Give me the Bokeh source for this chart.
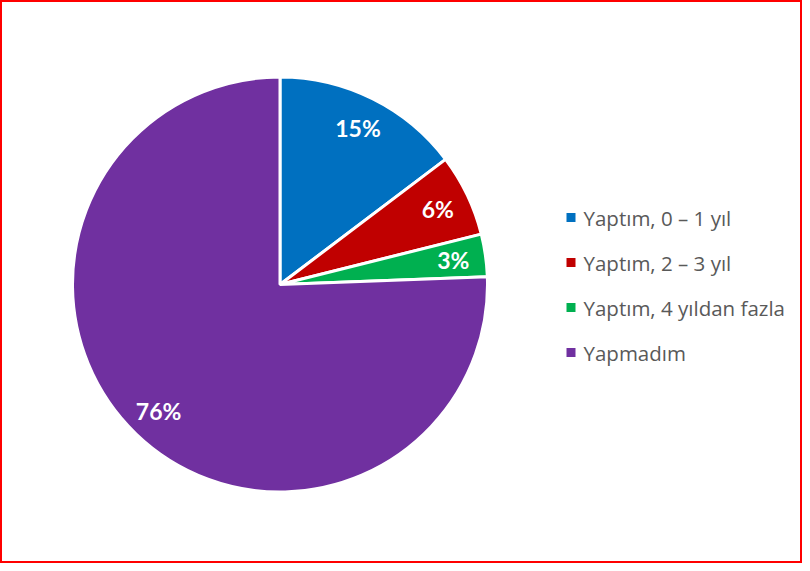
import math
from bokeh.plotting import figure
from bokeh.models import ColumnDataSource, Range1d
from bokeh.core.properties import value
from bokeh.embed import file_html
from bokeh.resources import INLINE

categories = ["Yaptım, 0 – 1 yıl", "Yaptım, 2 – 3 yıl", "Yaptım, 4 yıldan fazla", "Yapmadım"]
shares = [14.7, 6.4, 3.3, 75.6]
labels = ["15%", "6%", "3%", "76%"]
colors = ["#0070C0", "#C00000", "#00B050", "#7030A0"]

W, H = 802, 563
p = figure(width=W, height=H, output_backend="svg", toolbar_location=None,
           x_range=Range1d(0, W), y_range=Range1d(0, H), min_border=0)
p.axis.visible = False
p.grid.visible = False
p.outline_line_color = "#FF0000"
p.outline_line_width = 3
p.background_fill_color = "white"

cx, cy, R = 279.5, 279.0, 207.5
total = sum(shares)
starts, ends, lx, ly = [], [], [], []
cum = 0.0
for s in shares:
    a0 = math.pi / 2 - cum / total * 2 * math.pi
    cum += s
    a1 = math.pi / 2 - cum / total * 2 * math.pi
    starts.append(a0)
    ends.append(a1)
    mid = (a0 + a1) / 2
    lx.append(cx + 175 * math.cos(mid))
    ly.append(cy + 175 * math.sin(mid))

src = ColumnDataSource(dict(start=starts, end=ends, color=colors, lx=lx, ly=ly, label=labels))
p.wedge(x=cx, y=cy, radius=R, start_angle="start", end_angle="end", direction="clock",
        fill_color="color", line_color="white", line_width=3, source=src)
p.text(x="lx", y="ly", text="label", source=src, text_color="white",
       text_font=value("Lato"), text_font_style="bold", text_font_size="23px",
       text_align="center", text_baseline="middle")

leg_y = [346, 301, 256, 211]
leg = ColumnDataSource(dict(x=[570.5] * 4, tx=[583] * 4, y=leg_y, color=colors, name=categories))
p.scatter(x="x", y="y", marker="square", size=9, fill_color="color", line_color=None, source=leg)
p.text(x="tx", y="y", text="name", source=leg, text_color="#595959",
       text_font=value("Open Sans"), text_font_size="20.5px", text_baseline="middle")

open("out.html", "w").write(file_html(p, INLINE))
